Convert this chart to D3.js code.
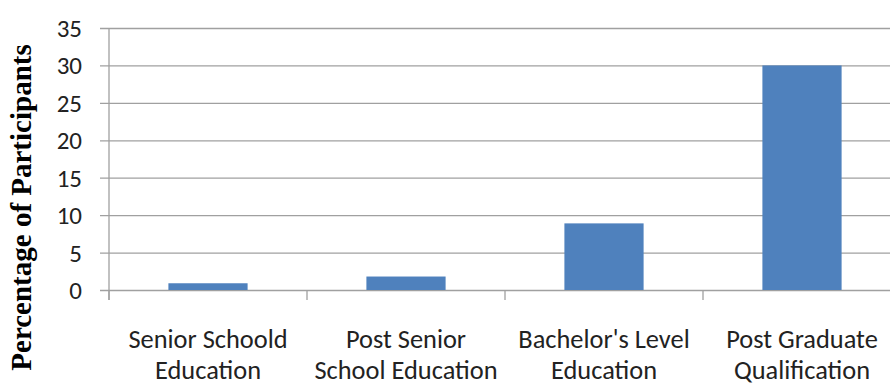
<!DOCTYPE html>
<html>
<head>
<meta charset="utf-8">
<script src="https://cdn.jsdelivr.net/npm/d3@7"></script>
<style>
  html, body { margin: 0; padding: 0; background: #fff; }
  svg { display: block; }
  .tick-label { font-family: Calibri, Carlito, Lato, sans-serif; fill: #222; }
  .cat-label { font-family: Calibri, Carlito, Lato, sans-serif; fill: #222; }
  .y-title { font-family: "Liberation Serif", "Times New Roman", serif; font-weight: bold; fill: #000; }
</style>
</head>
<body>
<svg id="chart" width="890" height="385"></svg>
<script>
// Education level of participants (percent)
const categories = [
  "Senior Schoold\nEducation",
  "Post Senior\nSchool Education",
  "Bachelor's Level\nEducation",
  "Post Graduate\nQualification"
];
const percentages = [0.9, 1.8, 8.9, 30];
const yTicks = [0, 5, 10, 15, 20, 25, 30, 35];
const yTitle = "Percentage of Participants";

const svg = d3.select("#chart");

const plot = { left: 109, right: 901, top: 28, bottom: 290 };

const x = d3.scaleBand()
  .domain(categories)
  .range([plot.left, plot.right])
  .paddingInner(0.6)
  .paddingOuter(0.3);

const y = d3.scaleLinear()
  .domain([0, 35])
  .range([plot.bottom, plot.top]);

const gridColor = "#a0a0a0";

// Horizontal gridlines with outward tick marks
const yAxis = d3.axisLeft(y)
  .tickValues(yTicks)
  .tickSize(-(plot.right - plot.left))
  .tickSizeOuter(0)
  .tickPadding(0)
  .tickFormat("");

const gy = svg.append("g")
  .attr("transform", `translate(${plot.left},0)`)
  .call(yAxis);
gy.select(".domain").remove();
gy.selectAll(".tick line")
  .attr("x1", -9)
  .attr("stroke", gridColor)
  .attr("stroke-width", 1.3);

// Value labels
svg.append("g").selectAll("text")
  .data(yTicks)
  .join("text")
  .attr("class", "tick-label")
  .attr("x", 82)
  .attr("y", d => y(d))
  .attr("dy", "0.36em")
  .attr("text-anchor", "end")
  .attr("font-size", 25)
  .text(d => d);

// Category axis line and boundary ticks
const boundaries = categories.map(c => x(c) - x.step() * x.paddingInner() / 2)
  .concat([plot.right]);
boundaries[0] = plot.left;

svg.append("line")
  .attr("x1", plot.left).attr("x2", plot.left)
  .attr("y1", plot.top).attr("y2", plot.bottom + 10)
  .attr("stroke", gridColor).attr("stroke-width", 1.3);

svg.append("g").selectAll("line")
  .data(boundaries)
  .join("line")
  .attr("x1", d => d).attr("x2", d => d)
  .attr("y1", plot.bottom).attr("y2", plot.bottom + 10)
  .attr("stroke", gridColor).attr("stroke-width", 1.3);

// Bars
svg.append("g").selectAll("rect")
  .data(categories)
  .join("rect")
  .attr("x", d => x(d))
  .attr("width", x.bandwidth())
  .attr("y", (d, i) => y(percentages[i]))
  .attr("height", (d, i) => y(0) - y(percentages[i]))
  .attr("fill", "#4f81bd");

// Category labels on two lines
const catText = svg.append("g").selectAll("text")
  .data(categories)
  .join("text")
  .attr("class", "cat-label")
  .attr("text-anchor", "middle")
  .attr("font-size", 26.4)
  .attr("transform", d => `translate(${x(d) + x.bandwidth() / 2},348)`);
catText.selectAll("tspan")
  .data(d => d.split("\n"))
  .join("tspan")
  .attr("x", 0)
  .attr("y", (d, i) => i * 31)
  .text(d => d);

// Y axis title
svg.append("text")
  .attr("class", "y-title")
  .attr("font-size", 29)
  .attr("text-anchor", "middle")
  .attr("transform", `translate(31,207.5) rotate(-90)`)
  .text(yTitle);
</script>
</body>
</html>
